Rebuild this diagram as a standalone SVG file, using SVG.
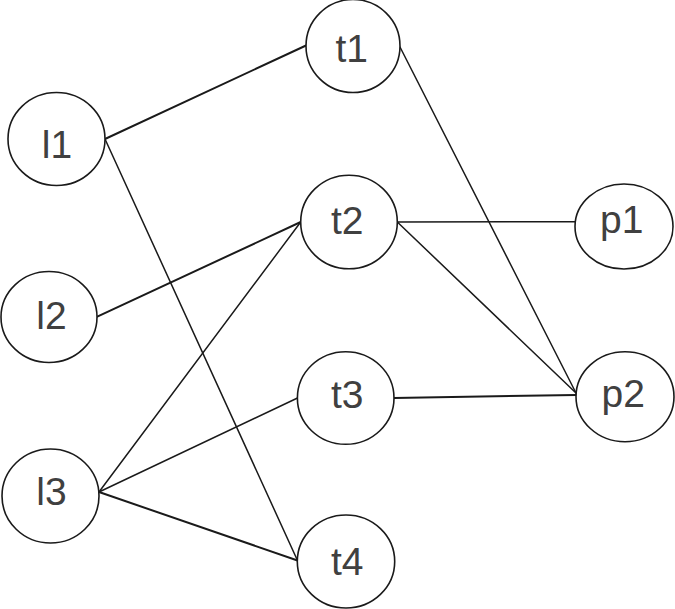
<svg xmlns="http://www.w3.org/2000/svg" width="675" height="609" viewBox="0 0 675 609">
<style>
.n ellipse{fill:#fff;stroke:#1a1a1a;stroke-width:1.6}
.n text{font-family:"Liberation Sans",Arial,sans-serif;font-size:39px;fill:#404040;text-anchor:middle}
.e line{stroke:#1a1a1a;stroke-linecap:round}
.t{stroke-width:1.5}
.k{stroke-width:2}
</style>
<rect width="675" height="609" fill="#fff"/>
<g id="connectors" class="e">
<line class="k" x1="105" y1="139" x2="306" y2="45.5"/>
<line class="t" x1="105" y1="139" x2="297.5" y2="560.5"/>
<line class="k" x1="97.3" y1="316.7" x2="300.7" y2="222"/>
<line class="t" x1="99" y1="492" x2="300.7" y2="222"/>
<line class="t" x1="99" y1="492" x2="297.5" y2="398"/>
<line class="k" x1="99" y1="492" x2="297.5" y2="560.5"/>
<line class="t" x1="400" y1="47" x2="576" y2="393"/>
<line class="t" x1="397.3" y1="222" x2="575" y2="221.7"/>
<line class="t" x1="397.3" y1="222" x2="576" y2="393"/>
<line class="k" x1="394" y1="398" x2="576" y2="395"/>
</g>
<g id="l1" class="n"><ellipse cx="56.5" cy="139" rx="48.5" ry="46.5"/><text x="57" y="158">l1</text></g>
<g id="l2" class="n"><ellipse cx="49" cy="317" rx="48" ry="45.5"/><text x="51.5" y="329">l2</text></g>
<g id="l3" class="n"><ellipse cx="50.5" cy="496" rx="48.5" ry="47"/><text x="51.5" y="505">l3</text></g>
<g id="t1" class="n"><ellipse cx="353" cy="46" rx="47" ry="46.5"/><text x="351.7" y="61.7">t1</text></g>
<g id="t2" class="n"><ellipse cx="349" cy="222" rx="48.3" ry="46.8"/><text x="347.3" y="234">t2</text></g>
<g id="t3" class="n"><ellipse cx="345.7" cy="398" rx="48.3" ry="46.3"/><text x="347.3" y="408">t3</text></g>
<g id="t4" class="n"><ellipse cx="346" cy="561.5" rx="48.7" ry="46.5"/><text x="347.3" y="575">t4</text></g>
<g id="p1" class="n"><ellipse cx="624" cy="226.5" rx="49" ry="42.5"/><text x="621.7" y="233">p1</text></g>
<g id="p2" class="n"><ellipse cx="625" cy="396.7" rx="49" ry="45"/><text x="623.3" y="407">p2</text></g>
</svg>
